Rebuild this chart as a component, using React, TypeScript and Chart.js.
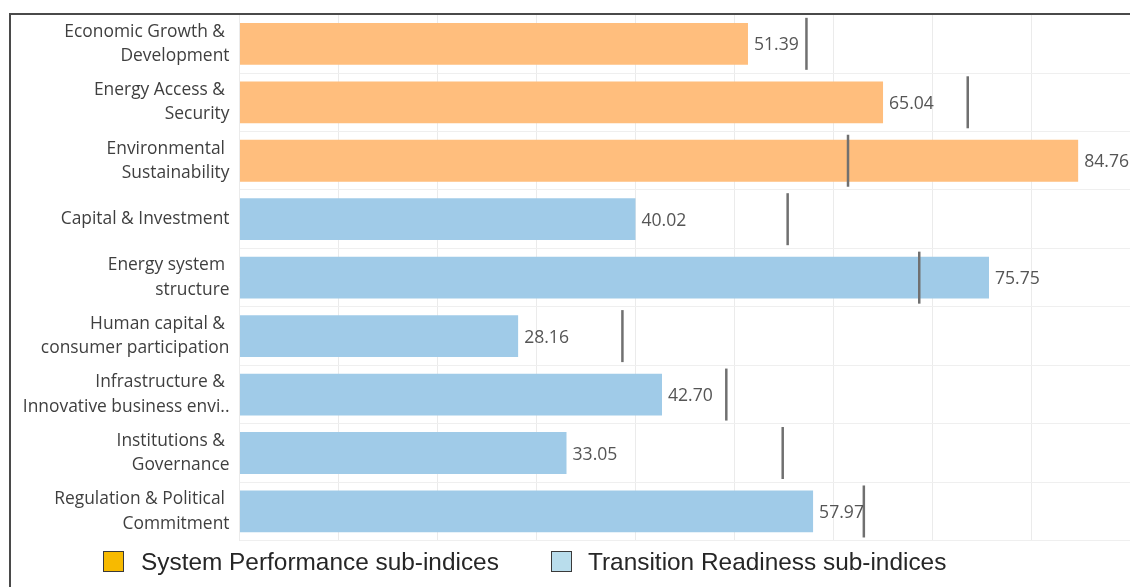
import React, { useEffect, useRef } from "react";
import { Chart, registerables } from "chart.js";

Chart.register(...registerables);

const categories: string[][] = [
  ["Economic Growth & ", "Development"],
  ["Energy Access & ", "Security"],
  ["Environmental ", "Sustainability"],
  ["Capital & Investment"],
  ["Energy system ", "structure"],
  ["Human capital & ", "consumer participation"],
  ["Infrastructure & ", "Innovative business envi.."],
  ["Institutions & ", "Governance"],
  ["Regulation & Political ", "Commitment"],
];

const scores: number[] = [51.39, 65.04, 84.76, 40.02, 75.75, 28.16, 42.7, 33.05, 57.97];
const benchmarks: number[] = [57.3, 73.6, 61.5, 55.4, 68.7, 38.7, 49.2, 54.9, 63.1];
const groups: string[] = ["sp", "sp", "sp", "tr", "tr", "tr", "tr", "tr", "tr"];

const legendLabels: string[] = ["System Performance sub-indices", "Transition Readiness sub-indices"];

const BAR_ORANGE = "#FFBE7D";
const BAR_BLUE = "#A0CBE8";
const LEGEND_ORANGE = "#F7BA00";
const LEGEND_BLUE = "#B9DDEC";

const LABEL_FONT = "'Open Sans', 'Noto Sans', sans-serif";

const valueLabelPlugin = {
  id: "valueLabels",
  afterDatasetsDraw(chart: any) {
    const meta = chart.getDatasetMeta(0);
    const ctx = chart.ctx;
    ctx.save();
    ctx.font = `17.6px ${LABEL_FONT}`;
    ctx.fillStyle = "#555555";
    ctx.textAlign = "left";
    ctx.textBaseline = "middle";
    meta.data.forEach((bar: any, i: number) => {
      ctx.fillText(scores[i].toFixed(2), bar.x + 6, bar.y + 1.5);
    });
    ctx.restore();
  },
};

export default function App() {
  const canvasRef = useRef<HTMLCanvasElement | null>(null);

  useEffect(() => {
    if (!canvasRef.current) return;
    const chart = new Chart(canvasRef.current, {
      type: "bar",
      data: {
        labels: categories,
        datasets: [
          {
            type: "bar",
            data: scores,
            backgroundColor: groups.map((g) => (g === "sp" ? BAR_ORANGE : BAR_BLUE)),
            borderWidth: 0,
            barPercentage: 0.715,
            categoryPercentage: 1,
            order: 2,
          } as any,
          {
            type: "line",
            data: benchmarks,
            showLine: false,
            pointStyle: "line",
            rotation: 90,
            pointRadius: 26,
            pointHoverRadius: 26,
            borderColor: "#707070",
            backgroundColor: "#707070",
            pointBorderWidth: 2.5,
            borderWidth: 2.5,
            clip: false,
            order: 1,
          } as any,
        ],
      },
      options: {
        indexAxis: "y",
        responsive: false,
        maintainAspectRatio: false,
        animation: false,
        layout: { autoPadding: false, padding: { top: 14.6, bottom: 46.3, left: 0, right: 0 } },
        plugins: {
          legend: { display: false },
          tooltip: { enabled: false },
        },
        scales: {
          x: {
            min: 0,
            max: 90,
            ticks: { display: false, stepSize: 10 },
            grid: { color: "#ebebeb", lineWidth: 1, drawTicks: false },
            border: { display: false },
            afterFit(scale: any) {
              scale.paddingLeft = 0;
              scale.paddingRight = 0;
            },
          },
          y: {
            afterFit(scale: any) {
              scale.width = 239.5;
              scale.paddingTop = 0;
              scale.paddingBottom = 0;
            },
            ticks: {
              color: "#3f3f3f",
              padding: 10,
              font: { family: LABEL_FONT, size: 17.4, lineHeight: 1.4 },
            },
            grid: { color: "#efefef", lineWidth: 1, drawTicks: false, offset: true },
            border: { display: false },
          },
        },
      } as any,
      plugins: [valueLabelPlugin],
    });
    return () => chart.destroy();
  }, []);

  const legendItem = (color: string, text: string, boxLeft: number, textLeft: number) => (
    <>
      <div
        style={{
          position: "absolute",
          left: boxLeft,
          top: 551,
          width: 19,
          height: 19,
          background: color,
          border: "1.5px solid #3a3a3a",
        }}
      />
      <div
        style={{
          position: "absolute",
          left: textLeft,
          top: 547,
          fontFamily: "'Liberation Sans', Arial, sans-serif",
          fontSize: 24.4,
          lineHeight: "30px",
          color: "#262626",
          whiteSpace: "nowrap",
        }}
      >
        {text}
      </div>
    </>
  );

  return (
    <div
      style={{
        position: "absolute",
        left: 0,
        top: 0,
        width: 1130,
        height: 587,
        overflow: "hidden",
        background: "#ffffff",
      }}
    >
      <canvas ref={canvasRef} width={1130} height={587} style={{ position: "absolute", left: 0, top: 0 }} />
      <div
        style={{
          position: "absolute",
          left: 9,
          top: 13,
          width: 1130,
          height: 600,
          borderTop: "2px solid #4a4a4a",
          borderLeft: "2px solid #4a4a4a",
          pointerEvents: "none",
        }}
      />
      {legendItem(LEGEND_ORANGE, legendLabels[0], 103, 141)}
      {legendItem(LEGEND_BLUE, legendLabels[1], 551, 588)}
    </div>
  );
}
